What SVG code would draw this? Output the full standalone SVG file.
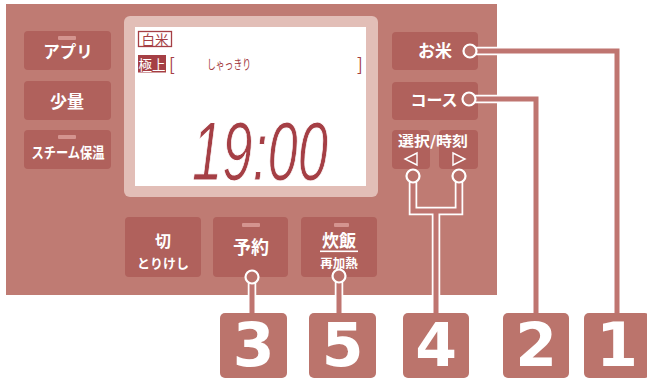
<svg xmlns="http://www.w3.org/2000/svg" width="647" height="381" viewBox="0 0 647 381">
<style>
.panel{fill:#bf7b73}
.btn{fill:#b0615c}
.led{fill:#d4948f}
.bt{fill:#fff;font-family:"Noto Sans CJK JP","Noto Sans",sans-serif;font-weight:700;text-anchor:middle}
.lcd{fill:#a53f45;font-family:"Noto Sans CJK JP","Noto Sans",sans-serif}
.cw{fill:none;stroke:#fff;stroke-width:8.5}
.cc{fill:none;stroke:#bf7570;stroke-width:5}
.knob{fill:#b9716a;stroke:#fff;stroke-width:2.2}
.box{fill:#bb746c}
.num{fill:#fff;font-family:"DejaVu Sans","Noto Sans",sans-serif;font-weight:700;font-size:60px;text-anchor:middle}
.tri{fill:none;stroke:#fff;stroke-width:1.4}
</style>
<rect x="0" y="0" width="647" height="381" fill="#fff"/>
<rect class="panel" x="6" y="4" width="491" height="291"/>

<g id="display">
<rect x="124" y="16" width="254" height="181" rx="6" fill="#e2beb7"/>
<rect x="135" y="27" width="231" height="159" fill="#fff"/>
<rect x="138.5" y="31.5" width="33" height="15" fill="#fff" stroke="#a53f45" stroke-width="1.3"/>
<text class="lcd" x="155" y="44.5" font-size="13.5" text-anchor="middle">白米</text>
<rect x="138" y="55" width="28" height="17.5" fill="#a53f45"/>
<text x="152" y="69.5" font-size="13.5" text-anchor="middle" fill="#fff" font-family="Noto Sans CJK JP,sans-serif">極上</text>
<text class="lcd" x="169" y="71" font-size="17">[</text>
<text class="lcd" x="357" y="71" font-size="17">]</text>
<text class="lcd" x="229" y="69" font-size="13" text-anchor="middle" textLength="44" lengthAdjust="spacingAndGlyphs">しゃっきり</text>
<text x="192" y="180" font-family="Liberation Sans,sans-serif" font-style="italic" font-size="84" fill="#a53f45" stroke="#fff" stroke-width="1" textLength="136" lengthAdjust="spacingAndGlyphs">19:00</text>
</g>

<g id="btn-apuri"><rect class="btn" x="24" y="31" width="87" height="39" rx="4"/><rect class="led" x="58" y="36" width="18" height="4" rx="1"/><text class="bt" x="68" y="58" font-size="16.5">アプリ</text></g>
<g id="btn-shoryo"><rect class="btn" x="24" y="81" width="87" height="39" rx="4"/><text class="bt" x="67" y="108" font-size="17">少量</text></g>
<g id="btn-steam"><rect class="btn" x="24" y="130" width="87" height="39" rx="4"/><rect class="led" x="58" y="135" width="18" height="4" rx="1"/><text class="bt" x="68" y="158" font-size="15" textLength="73" lengthAdjust="spacingAndGlyphs">スチーム保温</text></g>

<g id="btn-okome"><rect class="btn" x="392" y="32" width="86" height="38" rx="4"/><text class="bt" x="435" y="57" font-size="17">お米</text></g>
<g id="btn-course"><rect class="btn" x="392" y="82" width="86" height="38" rx="4"/><text class="bt" x="434" y="106" font-size="16">コース</text></g>
<g id="btn-select"><rect class="btn" x="392" y="130" width="38" height="39" rx="4"/><rect class="btn" x="439" y="130" width="39" height="39" rx="4"/><text class="bt" x="433" y="146" font-size="14" textLength="70" lengthAdjust="spacingAndGlyphs">選択/時刻</text><polygon class="tri" points="417,153 417,165 405,159"/><polygon class="tri" points="453,153 453,165 465,159"/></g>

<g id="btn-kiri"><rect class="btn" x="125" y="217" width="76" height="60" rx="4"/><text class="bt" x="163" y="247" font-size="16">切</text><text class="bt" x="163" y="268" font-size="13">とりけし</text></g>
<g id="btn-yoyaku"><rect class="btn" x="213" y="217" width="75" height="60" rx="4"/><rect class="led" x="242" y="223" width="18" height="4" rx="1"/><text class="bt" x="251" y="254" font-size="18">予約</text></g>
<g id="btn-suihan"><rect class="btn" x="301" y="217" width="76" height="60" rx="4"/><rect class="led" x="334" y="223" width="15" height="4" rx="1"/><text class="bt" x="339" y="247" font-size="17">炊飯</text><rect x="320" y="250.5" width="38" height="1.6" fill="#fff"/><text class="bt" x="339" y="268" font-size="12.5">再加熱</text></g>

<g id="connectors">
<path class="cw" d="M476,51 H617 V313 M475,99 H536 V313 M413,182 V211 H459 V182 M436,211 V313 M252,283 V313 M339,282 V313"/>
<path class="cc" d="M476,51 H617 V313 M475,99 H536 V313 M413,182 V211 H459 V182 M436,211 V313 M252,283 V313 M339,282 V313"/>
<circle class="knob" cx="470" cy="51" r="6.5"/>
<circle class="knob" cx="469" cy="99" r="6.5"/>
<circle class="knob" cx="413" cy="176" r="6.5"/>
<circle class="knob" cx="459" cy="176" r="6.5"/>
<circle class="knob" cx="252" cy="277" r="6.5"/>
<circle class="knob" cx="339" cy="276" r="6.5"/>
</g>

<g id="label-3"><rect class="box" x="220" y="313" width="67" height="65" rx="5"/><text class="num" x="253.5" y="366">3</text></g>
<g id="label-5"><rect class="box" x="309" y="313" width="67" height="65" rx="5"/><text class="num" x="342.5" y="366">5</text></g>
<g id="label-4"><rect class="box" x="403" y="313" width="66" height="65" rx="5"/><text class="num" x="436" y="366">4</text></g>
<g id="label-2"><rect class="box" x="503" y="313" width="66" height="65" rx="5"/><text class="num" x="536" y="366">2</text></g>
<g id="label-1"><rect class="box" x="584" y="313" width="66" height="65" rx="5"/><text class="num" x="617" y="366">1</text></g>
</svg>
